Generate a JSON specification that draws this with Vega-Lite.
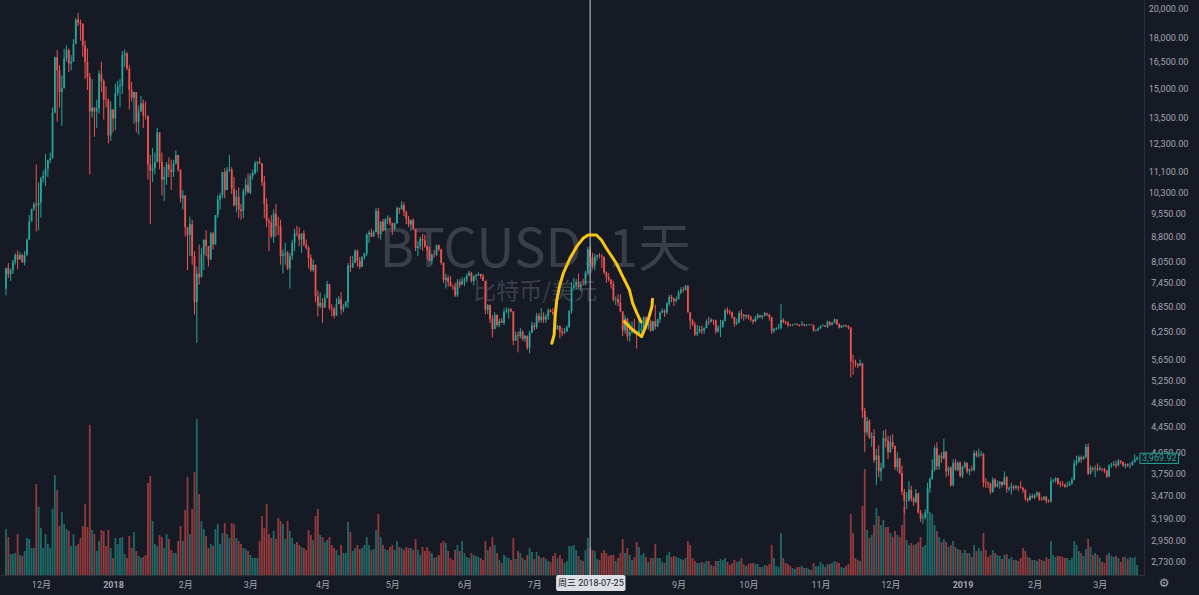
{
"$schema": "https://vega.github.io/schema/vega-lite/v6.json",
"width": 1144,
"height": 575,
"autosize": {"type": "none"},
"padding": {"left": 0, "top": 0, "right": 55, "bottom": 20},
"background": "#161a25",
"config": {
  "view": {"stroke": null},
  "axis": {"grid": false, "ticks": false, "tickSize": 0, "domainColor": "#2a2e39", "labelColor": "#a3a6af", "labelFont": "Roboto, Noto Sans CJK SC", "labelFontSize": 9}
},
"datasets": {
"bars": [
{"d":"2017-11-16","o":7300,"h":7870,"l":7120,"c":7850,"v":46},
{"d":"2017-11-17","o":7850,"h":8000,"l":7580,"c":7690,"v":38},
{"d":"2017-11-18","o":7690,"h":7850,"l":7500,"c":7790,"v":21},
{"d":"2017-11-19","o":7790,"h":8100,"l":7690,"c":8040,"v":21},
{"d":"2017-11-20","o":8040,"h":8280,"l":7950,"c":8240,"v":22},
{"d":"2017-11-21","o":8240,"h":8370,"l":7820,"c":8100,"v":41},
{"d":"2017-11-22","o":8100,"h":8320,"l":8100,"c":8230,"v":20},
{"d":"2017-11-23","o":8230,"h":8270,"l":8000,"c":8030,"v":19},
{"d":"2017-11-24","o":8030,"h":8350,"l":7930,"c":8230,"v":24},
{"d":"2017-11-25","o":8230,"h":8740,"l":8200,"c":8700,"v":37},
{"d":"2017-11-26","o":8700,"h":9500,"l":8700,"c":9290,"v":36},
{"d":"2017-11-27","o":9290,"h":9730,"l":9290,"c":9720,"v":27},
{"d":"2017-11-28","o":9720,"h":9960,"l":9650,"c":9880,"v":27},
{"d":"2017-11-29","o":9880,"h":11400,"l":8960,"c":9840,"v":91},
{"d":"2017-11-30","o":9840,"h":10690,"l":9000,"c":9950,"v":68},
{"d":"2017-12-01","o":9950,"h":10900,"l":9420,"c":10850,"v":47},
{"d":"2017-12-02","o":10850,"h":11150,"l":10690,"c":10950,"v":27},
{"d":"2017-12-03","o":10950,"h":11850,"l":10550,"c":11230,"v":41},
{"d":"2017-12-04","o":11230,"h":11600,"l":10900,"c":11590,"v":31},
{"d":"2017-12-05","o":11590,"h":11900,"l":11450,"c":11660,"v":27},
{"d":"2017-12-06","o":11660,"h":14000,"l":11650,"c":13750,"v":66},
{"d":"2017-12-07","o":13750,"h":16800,"l":13700,"c":16770,"v":100},
{"d":"2017-12-08","o":16770,"h":17200,"l":13300,"c":16000,"v":85},
{"d":"2017-12-09","o":16000,"h":16300,"l":14000,"c":14800,"v":49},
{"d":"2017-12-10","o":14800,"h":15700,"l":13100,"c":15000,"v":63},
{"d":"2017-12-11","o":15000,"h":17300,"l":15000,"c":16700,"v":51},
{"d":"2017-12-12","o":16700,"h":17500,"l":16500,"c":17200,"v":46},
{"d":"2017-12-13","o":17200,"h":17300,"l":15900,"c":16400,"v":44},
{"d":"2017-12-14","o":16400,"h":16900,"l":16000,"c":16500,"v":29},
{"d":"2017-12-15","o":16500,"h":17900,"l":16500,"c":17600,"v":41},
{"d":"2017-12-16","o":17600,"h":19300,"l":17600,"c":19200,"v":29},
{"d":"2017-12-17","o":19200,"h":19670,"l":18750,"c":19000,"v":31},
{"d":"2017-12-18","o":19000,"h":19200,"l":17800,"c":18900,"v":37},
{"d":"2017-12-19","o":18900,"h":18950,"l":16800,"c":17500,"v":49},
{"d":"2017-12-20","o":17500,"h":17800,"l":15500,"c":16500,"v":71},
{"d":"2017-12-21","o":16500,"h":17300,"l":14900,"c":15600,"v":48},
{"d":"2017-12-22","o":15600,"h":15850,"l":11000,"c":13800,"v":150},
{"d":"2017-12-23","o":13800,"h":15500,"l":13500,"c":14000,"v":45},
{"d":"2017-12-24","o":14000,"h":14000,"l":12600,"c":13800,"v":41},
{"d":"2017-12-25","o":13800,"h":14400,"l":13000,"c":13950,"v":24},
{"d":"2017-12-26","o":13950,"h":16000,"l":13700,"c":15800,"v":34},
{"d":"2017-12-27","o":15800,"h":16500,"l":14800,"c":15400,"v":45},
{"d":"2017-12-28","o":15400,"h":15500,"l":13400,"c":14400,"v":44},
{"d":"2017-12-29","o":14400,"h":15100,"l":14000,"c":14380,"v":29},
{"d":"2017-12-30","o":14380,"h":14450,"l":12300,"c":12650,"v":45},
{"d":"2017-12-31","o":12650,"h":14300,"l":12400,"c":13900,"v":27},
{"d":"2018-01-01","o":13900,"h":13900,"l":12800,"c":13450,"v":17},
{"d":"2018-01-02","o":13450,"h":15250,"l":12900,"c":14750,"v":37},
{"d":"2018-01-03","o":14750,"h":15400,"l":14600,"c":15100,"v":31},
{"d":"2018-01-04","o":15100,"h":15500,"l":14000,"c":15150,"v":37},
{"d":"2018-01-05","o":15150,"h":17150,"l":14700,"c":16900,"v":38},
{"d":"2018-01-06","o":16900,"h":17250,"l":16200,"c":17000,"v":21},
{"d":"2018-01-07","o":17000,"h":17100,"l":16000,"c":16100,"v":17},
{"d":"2018-01-08","o":16100,"h":16300,"l":13900,"c":14900,"v":39},
{"d":"2018-01-09","o":14900,"h":15350,"l":14300,"c":14500,"v":27},
{"d":"2018-01-10","o":14500,"h":14800,"l":13200,"c":14800,"v":43},
{"d":"2018-01-11","o":14800,"h":14800,"l":12800,"c":13300,"v":24},
{"d":"2018-01-12","o":13300,"h":14100,"l":12700,"c":13800,"v":19},
{"d":"2018-01-13","o":13800,"h":14600,"l":13800,"c":14200,"v":17},
{"d":"2018-01-14","o":14200,"h":14400,"l":13000,"c":13600,"v":18},
{"d":"2018-01-15","o":13600,"h":14300,"l":13400,"c":13580,"v":20},
{"d":"2018-01-16","o":13580,"h":13600,"l":10800,"c":11400,"v":92},
{"d":"2018-01-17","o":11400,"h":11800,"l":9200,"c":11150,"v":99},
{"d":"2018-01-18","o":11150,"h":12100,"l":10700,"c":11250,"v":54},
{"d":"2018-01-19","o":11250,"h":11900,"l":11000,"c":11500,"v":31},
{"d":"2018-01-20","o":11500,"h":13000,"l":11500,"c":12800,"v":29},
{"d":"2018-01-21","o":12800,"h":12800,"l":11200,"c":11500,"v":40},
{"d":"2018-01-22","o":11500,"h":11900,"l":10200,"c":10800,"v":38},
{"d":"2018-01-23","o":10800,"h":11300,"l":10000,"c":10900,"v":27},
{"d":"2018-01-24","o":10900,"h":11500,"l":10600,"c":11400,"v":41},
{"d":"2018-01-25","o":11400,"h":11700,"l":10900,"c":11200,"v":36},
{"d":"2018-01-26","o":11200,"h":11600,"l":10400,"c":11100,"v":25},
{"d":"2018-01-27","o":11100,"h":11600,"l":10900,"c":11450,"v":22},
{"d":"2018-01-28","o":11450,"h":12000,"l":11400,"c":11800,"v":22},
{"d":"2018-01-29","o":11800,"h":11800,"l":11100,"c":11200,"v":34},
{"d":"2018-01-30","o":11200,"h":11200,"l":9950,"c":10100,"v":49},
{"d":"2018-01-31","o":10100,"h":10400,"l":9700,"c":10200,"v":34},
{"d":"2018-02-01","o":10200,"h":10200,"l":8800,"c":9100,"v":65},
{"d":"2018-02-02","o":9100,"h":9100,"l":7800,"c":8850,"v":98},
{"d":"2018-02-03","o":8850,"h":9450,"l":8200,"c":9200,"v":41},
{"d":"2018-02-04","o":9200,"h":9350,"l":7950,"c":8200,"v":66},
{"d":"2018-02-05","o":8200,"h":8350,"l":6650,"c":6950,"v":103},
{"d":"2018-02-06","o":6950,"h":7900,"l":6000,"c":7700,"v":156},
{"d":"2018-02-07","o":7700,"h":8550,"l":7400,"c":7600,"v":81},
{"d":"2018-02-08","o":7600,"h":8450,"l":7600,"c":8250,"v":54},
{"d":"2018-02-09","o":8250,"h":8700,"l":7800,"c":8700,"v":46},
{"d":"2018-02-10","o":8700,"h":9000,"l":8200,"c":8500,"v":39},
{"d":"2018-02-11","o":8500,"h":8500,"l":7900,"c":8100,"v":27},
{"d":"2018-02-12","o":8100,"h":8950,"l":8100,"c":8900,"v":31},
{"d":"2018-02-13","o":8900,"h":8950,"l":8400,"c":8550,"v":29},
{"d":"2018-02-14","o":8550,"h":9500,"l":8550,"c":9500,"v":46},
{"d":"2018-02-15","o":9500,"h":10200,"l":9400,"c":10050,"v":51},
{"d":"2018-02-16","o":10050,"h":10300,"l":9700,"c":10200,"v":31},
{"d":"2018-02-17","o":10200,"h":11100,"l":10100,"c":11100,"v":42},
{"d":"2018-02-18","o":11100,"h":11250,"l":10100,"c":10400,"v":52},
{"d":"2018-02-19","o":10400,"h":11300,"l":10400,"c":11150,"v":41},
{"d":"2018-02-20","o":11150,"h":11800,"l":11100,"c":11200,"v":37},
{"d":"2018-02-21","o":11200,"h":11300,"l":10250,"c":10450,"v":52},
{"d":"2018-02-22","o":10450,"h":10900,"l":9800,"c":9850,"v":51},
{"d":"2018-02-23","o":9850,"h":10400,"l":9600,"c":10150,"v":37},
{"d":"2018-02-24","o":10150,"h":10500,"l":9400,"c":9700,"v":34},
{"d":"2018-02-25","o":9700,"h":9900,"l":9350,"c":9650,"v":31},
{"d":"2018-02-26","o":9650,"h":10450,"l":9400,"c":10350,"v":27},
{"d":"2018-02-27","o":10350,"h":10850,"l":10200,"c":10600,"v":26},
{"d":"2018-02-28","o":10600,"h":11050,"l":10300,"c":10300,"v":24},
{"d":"2018-03-01","o":10300,"h":11050,"l":10250,"c":10950,"v":20},
{"d":"2018-03-02","o":10950,"h":11200,"l":10800,"c":11050,"v":17},
{"d":"2018-03-03","o":11050,"h":11550,"l":11000,"c":11450,"v":17},
{"d":"2018-03-04","o":11450,"h":11550,"l":11100,"c":11500,"v":17},
{"d":"2018-03-05","o":11500,"h":11700,"l":11400,"c":11450,"v":34},
{"d":"2018-03-06","o":11450,"h":11450,"l":10550,"c":10700,"v":59},
{"d":"2018-03-07","o":10700,"h":10950,"l":9400,"c":9900,"v":47},
{"d":"2018-03-08","o":9900,"h":10100,"l":9100,"c":9300,"v":71},
{"d":"2018-03-09","o":9300,"h":9400,"l":8350,"c":9250,"v":41},
{"d":"2018-03-10","o":9250,"h":9500,"l":8750,"c":8800,"v":37},
{"d":"2018-03-11","o":8800,"h":9700,"l":8600,"c":9550,"v":44},
{"d":"2018-03-12","o":9550,"h":9900,"l":8800,"c":9150,"v":36},
{"d":"2018-03-13","o":9150,"h":9450,"l":8850,"c":9130,"v":57},
{"d":"2018-03-14","o":9130,"h":9350,"l":7950,"c":8200,"v":54},
{"d":"2018-03-15","o":8200,"h":8400,"l":7700,"c":8250,"v":51},
{"d":"2018-03-16","o":8250,"h":8600,"l":7950,"c":8300,"v":36},
{"d":"2018-03-17","o":8300,"h":8350,"l":7800,"c":7850,"v":54},
{"d":"2018-03-18","o":7850,"h":8300,"l":7300,"c":8200,"v":44},
{"d":"2018-03-19","o":8200,"h":8700,"l":8100,"c":8600,"v":37},
{"d":"2018-03-20","o":8600,"h":9050,"l":8350,"c":8900,"v":31},
{"d":"2018-03-21","o":8900,"h":9150,"l":8800,"c":8880,"v":33},
{"d":"2018-03-22","o":8880,"h":9100,"l":8500,"c":8700,"v":30},
{"d":"2018-03-23","o":8700,"h":8900,"l":8300,"c":8900,"v":28},
{"d":"2018-03-24","o":8900,"h":9000,"l":8500,"c":8550,"v":27},
{"d":"2018-03-25","o":8550,"h":8700,"l":8400,"c":8450,"v":25},
{"d":"2018-03-26","o":8450,"h":8500,"l":7850,"c":8150,"v":45},
{"d":"2018-03-27","o":8150,"h":8250,"l":7750,"c":7800,"v":40},
{"d":"2018-03-28","o":7800,"h":8100,"l":7750,"c":7950,"v":35},
{"d":"2018-03-29","o":7950,"h":7950,"l":6950,"c":7100,"v":59},
{"d":"2018-03-30","o":7100,"h":7250,"l":6600,"c":6850,"v":66},
{"d":"2018-03-31","o":6850,"h":7200,"l":6800,"c":6930,"v":40},
{"d":"2018-04-01","o":6930,"h":7050,"l":6450,"c":6820,"v":38},
{"d":"2018-04-02","o":6820,"h":7150,"l":6800,"c":7050,"v":33},
{"d":"2018-04-03","o":7050,"h":7500,"l":7050,"c":7420,"v":35},
{"d":"2018-04-04","o":7420,"h":7420,"l":6750,"c":6800,"v":38},
{"d":"2018-04-05","o":6800,"h":6900,"l":6600,"c":6780,"v":30},
{"d":"2018-04-06","o":6780,"h":6830,"l":6550,"c":6620,"v":27},
{"d":"2018-04-07","o":6620,"h":7050,"l":6620,"c":6900,"v":25},
{"d":"2018-04-08","o":6900,"h":7100,"l":6900,"c":7020,"v":20},
{"d":"2018-04-09","o":7020,"h":7200,"l":6650,"c":6770,"v":30},
{"d":"2018-04-10","o":6770,"h":6900,"l":6700,"c":6840,"v":22},
{"d":"2018-04-11","o":6840,"h":6980,"l":6820,"c":6950,"v":22},
{"d":"2018-04-12","o":6950,"h":8000,"l":6800,"c":7920,"v":53},
{"d":"2018-04-13","o":7920,"h":8200,"l":7750,"c":7890,"v":43},
{"d":"2018-04-14","o":7890,"h":8200,"l":7850,"c":8000,"v":24},
{"d":"2018-04-15","o":8000,"h":8400,"l":8000,"c":8360,"v":27},
{"d":"2018-04-16","o":8360,"h":8400,"l":7900,"c":8060,"v":30},
{"d":"2018-04-17","o":8060,"h":8180,"l":7830,"c":7890,"v":26},
{"d":"2018-04-18","o":7890,"h":8200,"l":7890,"c":8170,"v":27},
{"d":"2018-04-19","o":8170,"h":8300,"l":8100,"c":8280,"v":30},
{"d":"2018-04-20","o":8280,"h":8900,"l":8200,"c":8860,"v":38},
{"d":"2018-04-21","o":8860,"h":9000,"l":8600,"c":8930,"v":30},
{"d":"2018-04-22","o":8930,"h":9050,"l":8780,"c":8800,"v":25},
{"d":"2018-04-23","o":8800,"h":9000,"l":8800,"c":8940,"v":26},
{"d":"2018-04-24","o":8940,"h":9750,"l":8930,"c":9650,"v":45},
{"d":"2018-04-25","o":9650,"h":9750,"l":8750,"c":8870,"v":61},
{"d":"2018-04-26","o":8870,"h":9300,"l":8700,"c":9280,"v":38},
{"d":"2018-04-27","o":9280,"h":9380,"l":8950,"c":8990,"v":30},
{"d":"2018-04-28","o":8990,"h":9400,"l":8990,"c":9350,"v":26},
{"d":"2018-04-29","o":9350,"h":9500,"l":9200,"c":9400,"v":25},
{"d":"2018-04-30","o":9400,"h":9450,"l":9150,"c":9240,"v":28},
{"d":"2018-05-01","o":9240,"h":9250,"l":8850,"c":9070,"v":30},
{"d":"2018-05-02","o":9070,"h":9250,"l":9000,"c":9230,"v":25},
{"d":"2018-05-03","o":9230,"h":9800,"l":9200,"c":9740,"v":34},
{"d":"2018-05-04","o":9740,"h":9770,"l":9550,"c":9700,"v":28},
{"d":"2018-05-05","o":9700,"h":9990,"l":9700,"c":9860,"v":27},
{"d":"2018-05-06","o":9860,"h":9950,"l":9470,"c":9620,"v":25},
{"d":"2018-05-07","o":9620,"h":9650,"l":9200,"c":9370,"v":28},
{"d":"2018-05-08","o":9370,"h":9480,"l":9100,"c":9190,"v":27},
{"d":"2018-05-09","o":9190,"h":9360,"l":8980,"c":9330,"v":27},
{"d":"2018-05-10","o":9330,"h":9390,"l":9000,"c":9040,"v":25},
{"d":"2018-05-11","o":9040,"h":9040,"l":8350,"c":8440,"v":36},
{"d":"2018-05-12","o":8440,"h":8650,"l":8200,"c":8500,"v":25},
{"d":"2018-05-13","o":8500,"h":8800,"l":8400,"c":8720,"v":20},
{"d":"2018-05-14","o":8720,"h":8880,"l":8350,"c":8680,"v":28},
{"d":"2018-05-15","o":8680,"h":8850,"l":8450,"c":8500,"v":24},
{"d":"2018-05-16","o":8500,"h":8500,"l":8100,"c":8370,"v":28},
{"d":"2018-05-17","o":8370,"h":8480,"l":8050,"c":8060,"v":24},
{"d":"2018-05-18","o":8060,"h":8270,"l":7950,"c":8250,"v":22},
{"d":"2018-05-19","o":8250,"h":8380,"l":8150,"c":8240,"v":17},
{"d":"2018-05-20","o":8240,"h":8550,"l":8200,"c":8530,"v":18},
{"d":"2018-05-21","o":8530,"h":8550,"l":8350,"c":8400,"v":20},
{"d":"2018-05-22","o":8400,"h":8420,"l":7950,"c":8000,"v":32},
{"d":"2018-05-23","o":8000,"h":8020,"l":7450,"c":7530,"v":34},
{"d":"2018-05-24","o":7530,"h":7700,"l":7300,"c":7590,"v":32},
{"d":"2018-05-25","o":7590,"h":7650,"l":7350,"c":7470,"v":24},
{"d":"2018-05-26","o":7470,"h":7630,"l":7350,"c":7360,"v":17},
{"d":"2018-05-27","o":7360,"h":7400,"l":7260,"c":7350,"v":15},
{"d":"2018-05-28","o":7350,"h":7450,"l":7080,"c":7120,"v":25},
{"d":"2018-05-29","o":7120,"h":7550,"l":7080,"c":7470,"v":30},
{"d":"2018-05-30","o":7470,"h":7550,"l":7320,"c":7400,"v":24},
{"d":"2018-05-31","o":7400,"h":7600,"l":7400,"c":7500,"v":34},
{"d":"2018-06-01","o":7500,"h":7600,"l":7360,"c":7540,"v":22},
{"d":"2018-06-02","o":7540,"h":7700,"l":7460,"c":7640,"v":18},
{"d":"2018-06-03","o":7640,"h":7780,"l":7640,"c":7720,"v":17},
{"d":"2018-06-04","o":7720,"h":7750,"l":7460,"c":7500,"v":22},
{"d":"2018-06-05","o":7500,"h":7650,"l":7380,"c":7630,"v":20},
{"d":"2018-06-06","o":7630,"h":7690,"l":7520,"c":7660,"v":19},
{"d":"2018-06-07","o":7660,"h":7740,"l":7640,"c":7690,"v":18},
{"d":"2018-06-08","o":7690,"h":7700,"l":7560,"c":7620,"v":17},
{"d":"2018-06-09","o":7620,"h":7690,"l":7500,"c":7500,"v":15},
{"d":"2018-06-10","o":7500,"h":7500,"l":6650,"c":6760,"v":34},
{"d":"2018-06-11","o":6760,"h":6900,"l":6660,"c":6870,"v":25},
{"d":"2018-06-12","o":6870,"h":6890,"l":6450,"c":6540,"v":28},
{"d":"2018-06-13","o":6540,"h":6630,"l":6120,"c":6310,"v":38},
{"d":"2018-06-14","o":6310,"h":6700,"l":6300,"c":6640,"v":30},
{"d":"2018-06-15","o":6640,"h":6640,"l":6360,"c":6400,"v":22},
{"d":"2018-06-16","o":6400,"h":6550,"l":6350,"c":6490,"v":15},
{"d":"2018-06-17","o":6490,"h":6560,"l":6450,"c":6450,"v":12},
{"d":"2018-06-18","o":6450,"h":6790,"l":6400,"c":6710,"v":20},
{"d":"2018-06-19","o":6710,"h":6820,"l":6670,"c":6740,"v":18},
{"d":"2018-06-20","o":6740,"h":6800,"l":6550,"c":6770,"v":17},
{"d":"2018-06-21","o":6770,"h":6800,"l":6700,"c":6720,"v":15},
{"d":"2018-06-22","o":6720,"h":6730,"l":5950,"c":6050,"v":37},
{"d":"2018-06-23","o":6050,"h":6250,"l":6050,"c":6170,"v":16},
{"d":"2018-06-24","o":6170,"h":6250,"l":5800,"c":6150,"v":24},
{"d":"2018-06-25","o":6150,"h":6330,"l":6100,"c":6250,"v":22},
{"d":"2018-06-26","o":6250,"h":6280,"l":6050,"c":6090,"v":17},
{"d":"2018-06-27","o":6090,"h":6180,"l":6020,"c":6150,"v":15},
{"d":"2018-06-28","o":6150,"h":6170,"l":5850,"c":5900,"v":20},
{"d":"2018-06-29","o":5900,"h":6270,"l":5780,"c":6220,"v":27},
{"d":"2018-06-30","o":6220,"h":6480,"l":6220,"c":6390,"v":23},
{"d":"2018-07-01","o":6390,"h":6450,"l":6280,"c":6360,"v":16},
{"d":"2018-07-02","o":6360,"h":6680,"l":6310,"c":6620,"v":23},
{"d":"2018-07-03","o":6620,"h":6680,"l":6450,"c":6510,"v":19},
{"d":"2018-07-04","o":6510,"h":6800,"l":6460,"c":6600,"v":17},
{"d":"2018-07-05","o":6600,"h":6700,"l":6450,"c":6530,"v":18},
{"d":"2018-07-06","o":6530,"h":6660,"l":6450,"c":6600,"v":16},
{"d":"2018-07-07","o":6600,"h":6800,"l":6520,"c":6750,"v":14},
{"d":"2018-07-08","o":6750,"h":6780,"l":6700,"c":6710,"v":13},
{"d":"2018-07-09","o":6710,"h":6800,"l":6630,"c":6670,"v":19},
{"d":"2018-07-10","o":6670,"h":6700,"l":6300,"c":6300,"v":22},
{"d":"2018-07-11","o":6300,"h":6400,"l":6300,"c":6380,"v":17},
{"d":"2018-07-12","o":6380,"h":6390,"l":6100,"c":6250,"v":20},
{"d":"2018-07-13","o":6250,"h":6330,"l":6150,"c":6220,"v":16},
{"d":"2018-07-14","o":6220,"h":6330,"l":6200,"c":6250,"v":12},
{"d":"2018-07-15","o":6250,"h":6400,"l":6250,"c":6350,"v":14},
{"d":"2018-07-16","o":6350,"h":6750,"l":6340,"c":6730,"v":29},
{"d":"2018-07-17","o":6730,"h":7470,"l":6670,"c":7320,"v":29},
{"d":"2018-07-18","o":7320,"h":7580,"l":7250,"c":7380,"v":30},
{"d":"2018-07-19","o":7380,"h":7550,"l":7280,"c":7470,"v":25},
{"d":"2018-07-20","o":7470,"h":7700,"l":7300,"c":7330,"v":19},
{"d":"2018-07-21","o":7330,"h":7450,"l":7230,"c":7410,"v":15},
{"d":"2018-07-22","o":7410,"h":7560,"l":7380,"c":7400,"v":14},
{"d":"2018-07-23","o":7400,"h":7780,"l":7380,"c":7720,"v":25},
{"d":"2018-07-24","o":7720,"h":8480,"l":7700,"c":8400,"v":37},
{"d":"2018-07-25","o":8400,"h":8480,"l":8050,"c":8170,"v":27},
{"d":"2018-07-26","o":8170,"h":8300,"l":7860,"c":7930,"v":25},
{"d":"2018-07-27","o":7930,"h":8270,"l":7800,"c":8180,"v":24},
{"d":"2018-07-28","o":8180,"h":8230,"l":8070,"c":8230,"v":16},
{"d":"2018-07-29","o":8230,"h":8290,"l":8130,"c":8210,"v":15},
{"d":"2018-07-30","o":8210,"h":8250,"l":7860,"c":8180,"v":22},
{"d":"2018-07-31","o":8180,"h":8180,"l":7680,"c":7730,"v":25},
{"d":"2018-08-01","o":7730,"h":7760,"l":7450,"c":7600,"v":22},
{"d":"2018-08-02","o":7600,"h":7720,"l":7480,"c":7540,"v":19},
{"d":"2018-08-03","o":7540,"h":7550,"l":7300,"c":7420,"v":20},
{"d":"2018-08-04","o":7420,"h":7500,"l":6960,"c":7010,"v":20},
{"d":"2018-08-05","o":7010,"h":7090,"l":6880,"c":7030,"v":14},
{"d":"2018-08-06","o":7030,"h":7150,"l":6850,"c":6940,"v":17},
{"d":"2018-08-07","o":6940,"h":7150,"l":6700,"c":6720,"v":22},
{"d":"2018-08-08","o":6720,"h":6720,"l":6150,"c":6280,"v":36},
{"d":"2018-08-09","o":6280,"h":6630,"l":6200,"c":6550,"v":22},
{"d":"2018-08-10","o":6550,"h":6570,"l":6050,"c":6150,"v":27},
{"d":"2018-08-11","o":6150,"h":6470,"l":6030,"c":6240,"v":20},
{"d":"2018-08-12","o":6240,"h":6480,"l":6200,"c":6320,"v":15},
{"d":"2018-08-13","o":6320,"h":6540,"l":6200,"c":6260,"v":18},
{"d":"2018-08-14","o":6260,"h":6270,"l":5880,"c":6190,"v":33},
{"d":"2018-08-15","o":6190,"h":6620,"l":6180,"c":6270,"v":28},
{"d":"2018-08-16","o":6270,"h":6480,"l":6200,"c":6310,"v":20},
{"d":"2018-08-17","o":6310,"h":6600,"l":6300,"c":6580,"v":22},
{"d":"2018-08-18","o":6580,"h":6600,"l":6300,"c":6390,"v":18},
{"d":"2018-08-19","o":6390,"h":6550,"l":6300,"c":6490,"v":13},
{"d":"2018-08-20","o":6490,"h":6530,"l":6250,"c":6270,"v":17},
{"d":"2018-08-21","o":6270,"h":6500,"l":6270,"c":6480,"v":17},
{"d":"2018-08-22","o":6480,"h":6880,"l":6300,"c":6370,"v":31},
{"d":"2018-08-23","o":6370,"h":6550,"l":6350,"c":6530,"v":17},
{"d":"2018-08-24","o":6530,"h":6720,"l":6450,"c":6690,"v":17},
{"d":"2018-08-25","o":6690,"h":6800,"l":6680,"c":6740,"v":13},
{"d":"2018-08-26","o":6740,"h":6770,"l":6590,"c":6700,"v":12},
{"d":"2018-08-27","o":6700,"h":6950,"l":6650,"c":6910,"v":20},
{"d":"2018-08-28","o":6910,"h":7130,"l":6860,"c":7080,"v":23},
{"d":"2018-08-29","o":7080,"h":7140,"l":6950,"c":7040,"v":18},
{"d":"2018-08-30","o":7040,"h":7060,"l":6850,"c":6980,"v":19},
{"d":"2018-08-31","o":6980,"h":7090,"l":6940,"c":7020,"v":18},
{"d":"2018-09-01","o":7020,"h":7250,"l":7020,"c":7190,"v":17},
{"d":"2018-09-02","o":7190,"h":7330,"l":7150,"c":7270,"v":16},
{"d":"2018-09-03","o":7270,"h":7340,"l":7200,"c":7260,"v":15},
{"d":"2018-09-04","o":7260,"h":7400,"l":7240,"c":7360,"v":17},
{"d":"2018-09-05","o":7360,"h":7390,"l":6700,"c":6700,"v":34},
{"d":"2018-09-06","o":6700,"h":6710,"l":6300,"c":6500,"v":30},
{"d":"2018-09-07","o":6500,"h":6540,"l":6380,"c":6410,"v":17},
{"d":"2018-09-08","o":6410,"h":6470,"l":6150,"c":6190,"v":14},
{"d":"2018-09-09","o":6190,"h":6400,"l":6150,"c":6240,"v":12},
{"d":"2018-09-10","o":6240,"h":6380,"l":6220,"c":6310,"v":12},
{"d":"2018-09-11","o":6310,"h":6390,"l":6190,"c":6280,"v":13},
{"d":"2018-09-12","o":6280,"h":6350,"l":6200,"c":6330,"v":12},
{"d":"2018-09-13","o":6330,"h":6530,"l":6330,"c":6480,"v":14},
{"d":"2018-09-14","o":6480,"h":6590,"l":6400,"c":6470,"v":14},
{"d":"2018-09-15","o":6470,"h":6560,"l":6460,"c":6520,"v":10},
{"d":"2018-09-16","o":6520,"h":6530,"l":6400,"c":6500,"v":9},
{"d":"2018-09-17","o":6500,"h":6520,"l":6200,"c":6250,"v":14},
{"d":"2018-09-18","o":6250,"h":6400,"l":6230,"c":6340,"v":14},
{"d":"2018-09-19","o":6340,"h":6520,"l":6130,"c":6360,"v":16},
{"d":"2018-09-20","o":6360,"h":6520,"l":6340,"c":6490,"v":15},
{"d":"2018-09-21","o":6490,"h":6790,"l":6490,"c":6750,"v":17},
{"d":"2018-09-22","o":6750,"h":6820,"l":6650,"c":6710,"v":13},
{"d":"2018-09-23","o":6710,"h":6760,"l":6640,"c":6700,"v":10},
{"d":"2018-09-24","o":6700,"h":6720,"l":6550,"c":6590,"v":12},
{"d":"2018-09-25","o":6590,"h":6590,"l":6360,"c":6430,"v":15},
{"d":"2018-09-26","o":6430,"h":6550,"l":6400,"c":6460,"v":13},
{"d":"2018-09-27","o":6460,"h":6730,"l":6440,"c":6680,"v":14},
{"d":"2018-09-28","o":6680,"h":6770,"l":6540,"c":6640,"v":17},
{"d":"2018-09-29","o":6640,"h":6650,"l":6500,"c":6600,"v":11},
{"d":"2018-09-30","o":6600,"h":6650,"l":6540,"c":6630,"v":9},
{"d":"2018-10-01","o":6630,"h":6650,"l":6530,"c":6590,"v":11},
{"d":"2018-10-02","o":6590,"h":6620,"l":6480,"c":6520,"v":12},
{"d":"2018-10-03","o":6520,"h":6530,"l":6420,"c":6480,"v":12},
{"d":"2018-10-04","o":6480,"h":6620,"l":6470,"c":6570,"v":11},
{"d":"2018-10-05","o":6570,"h":6680,"l":6530,"c":6630,"v":11},
{"d":"2018-10-06","o":6630,"h":6640,"l":6560,"c":6590,"v":8},
{"d":"2018-10-07","o":6590,"h":6630,"l":6530,"c":6620,"v":8},
{"d":"2018-10-08","o":6620,"h":6710,"l":6600,"c":6680,"v":10},
{"d":"2018-10-09","o":6680,"h":6690,"l":6610,"c":6650,"v":9},
{"d":"2018-10-10","o":6650,"h":6650,"l":6500,"c":6590,"v":11},
{"d":"2018-10-11","o":6590,"h":6590,"l":6200,"c":6260,"v":30},
{"d":"2018-10-12","o":6260,"h":6330,"l":6220,"c":6310,"v":17},
{"d":"2018-10-13","o":6310,"h":6350,"l":6280,"c":6330,"v":9},
{"d":"2018-10-14","o":6330,"h":6430,"l":6300,"c":6340,"v":8},
{"d":"2018-10-15","o":6340,"h":6900,"l":6300,"c":6520,"v":42},
{"d":"2018-10-16","o":6520,"h":6560,"l":6440,"c":6470,"v":17},
{"d":"2018-10-17","o":6470,"h":6500,"l":6410,"c":6450,"v":12},
{"d":"2018-10-18","o":6450,"h":6490,"l":6350,"c":6400,"v":11},
{"d":"2018-10-19","o":6400,"h":6430,"l":6370,"c":6390,"v":9},
{"d":"2018-10-20","o":6390,"h":6420,"l":6370,"c":6410,"v":7},
{"d":"2018-10-21","o":6410,"h":6450,"l":6400,"c":6420,"v":6},
{"d":"2018-10-22","o":6420,"h":6440,"l":6380,"c":6400,"v":8},
{"d":"2018-10-23","o":6400,"h":6420,"l":6360,"c":6395,"v":8},
{"d":"2018-10-24","o":6395,"h":6490,"l":6390,"c":6420,"v":9},
{"d":"2018-10-25","o":6420,"h":6430,"l":6370,"c":6390,"v":7},
{"d":"2018-10-26","o":6390,"h":6420,"l":6370,"c":6400,"v":7},
{"d":"2018-10-27","o":6400,"h":6420,"l":6390,"c":6410,"v":6},
{"d":"2018-10-28","o":6410,"h":6420,"l":6390,"c":6400,"v":5},
{"d":"2018-10-29","o":6400,"h":6410,"l":6250,"c":6270,"v":12},
{"d":"2018-10-30","o":6270,"h":6300,"l":6250,"c":6280,"v":9},
{"d":"2018-10-31","o":6280,"h":6350,"l":6260,"c":6320,"v":9},
{"d":"2018-11-01","o":6320,"h":6390,"l":6320,"c":6380,"v":13},
{"d":"2018-11-02","o":6380,"h":6420,"l":6370,"c":6390,"v":11},
{"d":"2018-11-03","o":6390,"h":6400,"l":6350,"c":6360,"v":8},
{"d":"2018-11-04","o":6360,"h":6500,"l":6330,"c":6480,"v":11},
{"d":"2018-11-05","o":6480,"h":6480,"l":6370,"c":6410,"v":11},
{"d":"2018-11-06","o":6410,"h":6460,"l":6390,"c":6450,"v":12},
{"d":"2018-11-07","o":6450,"h":6550,"l":6440,"c":6530,"v":14},
{"d":"2018-11-08","o":6530,"h":6540,"l":6400,"c":6420,"v":13},
{"d":"2018-11-09","o":6420,"h":6440,"l":6320,"c":6340,"v":12},
{"d":"2018-11-10","o":6340,"h":6400,"l":6330,"c":6390,"v":8},
{"d":"2018-11-11","o":6390,"h":6410,"l":6350,"c":6400,"v":7},
{"d":"2018-11-12","o":6400,"h":6410,"l":6350,"c":6380,"v":9},
{"d":"2018-11-13","o":6380,"h":6390,"l":6300,"c":6340,"v":11},
{"d":"2018-11-14","o":6340,"h":6350,"l":5300,"c":5620,"v":61},
{"d":"2018-11-15","o":5620,"h":5750,"l":5350,"c":5600,"v":42},
{"d":"2018-11-16","o":5600,"h":5650,"l":5500,"c":5560,"v":17},
{"d":"2018-11-17","o":5560,"h":5580,"l":5480,"c":5530,"v":15},
{"d":"2018-11-18","o":5530,"h":5650,"l":5520,"c":5580,"v":14},
{"d":"2018-11-19","o":5580,"h":5580,"l":4580,"c":4700,"v":69},
{"d":"2018-11-20","o":4700,"h":4750,"l":4050,"c":4350,"v":106},
{"d":"2018-11-21","o":4350,"h":4600,"l":4300,"c":4530,"v":45},
{"d":"2018-11-22","o":4530,"h":4560,"l":4250,"c":4270,"v":37},
{"d":"2018-11-23","o":4270,"h":4350,"l":4130,"c":4290,"v":40},
{"d":"2018-11-24","o":4290,"h":4400,"l":3900,"c":3940,"v":50},
{"d":"2018-11-25","o":3940,"h":4100,"l":3600,"c":4000,"v":67},
{"d":"2018-11-26","o":4000,"h":4150,"l":3700,"c":3780,"v":59},
{"d":"2018-11-27","o":3780,"h":3900,"l":3650,"c":3830,"v":50},
{"d":"2018-11-28","o":3830,"h":4380,"l":3820,"c":4260,"v":55},
{"d":"2018-11-29","o":4260,"h":4400,"l":4120,"c":4220,"v":48},
{"d":"2018-11-30","o":4220,"h":4300,"l":3950,"c":4050,"v":48},
{"d":"2018-12-01","o":4050,"h":4300,"l":4040,"c":4200,"v":42},
{"d":"2018-12-02","o":4200,"h":4320,"l":4100,"c":4140,"v":38},
{"d":"2018-12-03","o":4140,"h":4150,"l":3800,"c":3840,"v":44},
{"d":"2018-12-04","o":3840,"h":4050,"l":3780,"c":3960,"v":40},
{"d":"2018-12-05","o":3960,"h":3970,"l":3740,"c":3760,"v":38},
{"d":"2018-12-06","o":3760,"h":3860,"l":3470,"c":3510,"v":50},
{"d":"2018-12-07","o":3510,"h":3550,"l":3250,"c":3400,"v":68},
{"d":"2018-12-08","o":3400,"h":3510,"l":3300,"c":3410,"v":35},
{"d":"2018-12-09","o":3410,"h":3650,"l":3390,"c":3540,"v":30},
{"d":"2018-12-10","o":3540,"h":3590,"l":3390,"c":3430,"v":32},
{"d":"2018-12-11","o":3430,"h":3450,"l":3340,"c":3390,"v":30},
{"d":"2018-12-12","o":3390,"h":3550,"l":3370,"c":3490,"v":31},
{"d":"2018-12-13","o":3490,"h":3500,"l":3250,"c":3260,"v":33},
{"d":"2018-12-14","o":3260,"h":3290,"l":3150,"c":3190,"v":38},
{"d":"2018-12-15","o":3190,"h":3240,"l":3130,"c":3200,"v":28},
{"d":"2018-12-16","o":3200,"h":3300,"l":3180,"c":3260,"v":30},
{"d":"2018-12-17","o":3260,"h":3630,"l":3250,"c":3560,"v":63},
{"d":"2018-12-18","o":3560,"h":3700,"l":3500,"c":3680,"v":63},
{"d":"2018-12-19","o":3680,"h":3950,"l":3670,"c":3800,"v":61},
{"d":"2018-12-20","o":3800,"h":4150,"l":3780,"c":4110,"v":50},
{"d":"2018-12-21","o":4110,"h":4200,"l":3800,"c":3850,"v":44},
{"d":"2018-12-22","o":3850,"h":4020,"l":3800,"c":4000,"v":38},
{"d":"2018-12-23","o":4000,"h":4050,"l":3900,"c":3960,"v":33},
{"d":"2018-12-24","o":3960,"h":4250,"l":3950,"c":4060,"v":36},
{"d":"2018-12-25","o":4060,"h":4060,"l":3700,"c":3780,"v":33},
{"d":"2018-12-26","o":3780,"h":3850,"l":3720,"c":3830,"v":28},
{"d":"2018-12-27","o":3830,"h":3850,"l":3580,"c":3600,"v":30},
{"d":"2018-12-28","o":3600,"h":3950,"l":3580,"c":3900,"v":34},
{"d":"2018-12-29","o":3900,"h":3950,"l":3790,"c":3800,"v":28},
{"d":"2018-12-30","o":3800,"h":3920,"l":3780,"c":3900,"v":26},
{"d":"2018-12-31","o":3900,"h":3920,"l":3700,"c":3720,"v":25},
{"d":"2019-01-01","o":3720,"h":3860,"l":3690,"c":3840,"v":22},
{"d":"2019-01-02","o":3840,"h":3920,"l":3820,"c":3900,"v":25},
{"d":"2019-01-03","o":3900,"h":3900,"l":3750,"c":3780,"v":22},
{"d":"2019-01-04","o":3780,"h":3820,"l":3730,"c":3810,"v":22},
{"d":"2019-01-05","o":3810,"h":3860,"l":3780,"c":3800,"v":18},
{"d":"2019-01-06","o":3800,"h":4080,"l":3780,"c":4040,"v":30},
{"d":"2019-01-07","o":4040,"h":4070,"l":3980,"c":4000,"v":24},
{"d":"2019-01-08","o":4000,"h":4100,"l":3970,"c":4010,"v":27},
{"d":"2019-01-09","o":4010,"h":4070,"l":3990,"c":4020,"v":24},
{"d":"2019-01-10","o":4020,"h":4040,"l":3570,"c":3630,"v":42},
{"d":"2019-01-11","o":3630,"h":3690,"l":3560,"c":3625,"v":25},
{"d":"2019-01-12","o":3625,"h":3650,"l":3560,"c":3610,"v":18},
{"d":"2019-01-13","o":3610,"h":3630,"l":3480,"c":3510,"v":20},
{"d":"2019-01-14","o":3510,"h":3700,"l":3500,"c":3670,"v":25},
{"d":"2019-01-15","o":3670,"h":3690,"l":3560,"c":3580,"v":22},
{"d":"2019-01-16","o":3580,"h":3660,"l":3570,"c":3610,"v":20},
{"d":"2019-01-17","o":3610,"h":3650,"l":3550,"c":3640,"v":19},
{"d":"2019-01-18","o":3640,"h":3650,"l":3570,"c":3600,"v":16},
{"d":"2019-01-19","o":3600,"h":3780,"l":3600,"c":3700,"v":20},
{"d":"2019-01-20","o":3700,"h":3720,"l":3500,"c":3550,"v":21},
{"d":"2019-01-21","o":3550,"h":3580,"l":3520,"c":3560,"v":16},
{"d":"2019-01-22","o":3560,"h":3630,"l":3480,"c":3580,"v":18},
{"d":"2019-01-23","o":3580,"h":3600,"l":3530,"c":3560,"v":15},
{"d":"2019-01-24","o":3560,"h":3600,"l":3540,"c":3580,"v":15},
{"d":"2019-01-25","o":3580,"h":3590,"l":3520,"c":3570,"v":14},
{"d":"2019-01-26","o":3570,"h":3650,"l":3550,"c":3560,"v":17},
{"d":"2019-01-27","o":3560,"h":3580,"l":3500,"c":3540,"v":27},
{"d":"2019-01-28","o":3540,"h":3540,"l":3400,"c":3430,"v":24},
{"d":"2019-01-29","o":3430,"h":3440,"l":3380,"c":3410,"v":18},
{"d":"2019-01-30","o":3410,"h":3490,"l":3400,"c":3460,"v":17},
{"d":"2019-01-31","o":3460,"h":3490,"l":3430,"c":3440,"v":15},
{"d":"2019-02-01","o":3440,"h":3490,"l":3420,"c":3470,"v":15},
{"d":"2019-02-02","o":3470,"h":3520,"l":3450,"c":3500,"v":14},
{"d":"2019-02-03","o":3500,"h":3510,"l":3400,"c":3420,"v":16},
{"d":"2019-02-04","o":3420,"h":3450,"l":3400,"c":3415,"v":15},
{"d":"2019-02-05","o":3415,"h":3460,"l":3410,"c":3450,"v":14},
{"d":"2019-02-06","o":3450,"h":3460,"l":3370,"c":3400,"v":18},
{"d":"2019-02-07","o":3400,"h":3420,"l":3380,"c":3390,"v":16},
{"d":"2019-02-08","o":3390,"h":3700,"l":3380,"c":3650,"v":34},
{"d":"2019-02-09","o":3650,"h":3680,"l":3630,"c":3660,"v":20},
{"d":"2019-02-10","o":3660,"h":3700,"l":3630,"c":3690,"v":18},
{"d":"2019-02-11","o":3690,"h":3690,"l":3600,"c":3620,"v":19},
{"d":"2019-02-12","o":3620,"h":3650,"l":3570,"c":3610,"v":19},
{"d":"2019-02-13","o":3610,"h":3650,"l":3580,"c":3600,"v":18},
{"d":"2019-02-14","o":3600,"h":3620,"l":3560,"c":3580,"v":17},
{"d":"2019-02-15","o":3580,"h":3640,"l":3570,"c":3590,"v":17},
{"d":"2019-02-16","o":3590,"h":3650,"l":3590,"c":3620,"v":15},
{"d":"2019-02-17","o":3620,"h":3700,"l":3600,"c":3670,"v":17},
{"d":"2019-02-18","o":3670,"h":3940,"l":3660,"c":3890,"v":34},
{"d":"2019-02-19","o":3890,"h":4000,"l":3860,"c":3920,"v":30},
{"d":"2019-02-20","o":3920,"h":4000,"l":3900,"c":3980,"v":24},
{"d":"2019-02-21","o":3980,"h":4000,"l":3900,"c":3950,"v":22},
{"d":"2019-02-22","o":3950,"h":4000,"l":3940,"c":3980,"v":19},
{"d":"2019-02-23","o":3980,"h":4170,"l":3960,"c":4130,"v":26},
{"d":"2019-02-24","o":4130,"h":4180,"l":3730,"c":3750,"v":36},
{"d":"2019-02-25","o":3750,"h":3860,"l":3740,"c":3830,"v":28},
{"d":"2019-02-26","o":3830,"h":3840,"l":3780,"c":3810,"v":20},
{"d":"2019-02-27","o":3810,"h":3860,"l":3700,"c":3820,"v":22},
{"d":"2019-02-28","o":3820,"h":3890,"l":3780,"c":3800,"v":20},
{"d":"2019-03-01","o":3800,"h":3860,"l":3790,"c":3820,"v":17},
{"d":"2019-03-02","o":3820,"h":3830,"l":3780,"c":3815,"v":13},
{"d":"2019-03-03","o":3815,"h":3830,"l":3760,"c":3790,"v":12},
{"d":"2019-03-04","o":3790,"h":3800,"l":3690,"c":3710,"v":20},
{"d":"2019-03-05","o":3710,"h":3880,"l":3700,"c":3860,"v":22},
{"d":"2019-03-06","o":3860,"h":3900,"l":3830,"c":3870,"v":19},
{"d":"2019-03-07","o":3870,"h":3920,"l":3850,"c":3880,"v":18},
{"d":"2019-03-08","o":3880,"h":3930,"l":3820,"c":3860,"v":19},
{"d":"2019-03-09","o":3860,"h":3950,"l":3850,"c":3930,"v":17},
{"d":"2019-03-10","o":3930,"h":3930,"l":3880,"c":3910,"v":13},
{"d":"2019-03-11","o":3910,"h":3920,"l":3840,"c":3860,"v":18},
{"d":"2019-03-12","o":3860,"h":3890,"l":3820,"c":3880,"v":18},
{"d":"2019-03-13","o":3880,"h":3890,"l":3840,"c":3860,"v":16},
{"d":"2019-03-14","o":3860,"h":3900,"l":3820,"c":3865,"v":18},
{"d":"2019-03-15","o":3865,"h":3930,"l":3860,"c":3910,"v":17},
{"d":"2019-03-16","o":3910,"h":4020,"l":3900,"c":3950,"v":18},
{"d":"2019-03-17","o":3950,"h":3990,"l":3930,"c":3969.92,"v":10}
],
"pen": [
{"d":"2018-07-08T13:12:00Z","p":5994,"s":"a","k":1},
{"d":"2018-07-09T12:43:00Z","p":6176,"s":"a","k":2},
{"d":"2018-07-09T22:48:00Z","p":6595,"s":"a","k":3},
{"d":"2018-07-10T16:19:00Z","p":7004,"s":"a","k":4},
{"d":"2018-07-11T18:43:00Z","p":7347,"s":"a","k":5},
{"d":"2018-07-13T11:45:00Z","p":7710,"s":"a","k":6},
{"d":"2018-07-16T08:10:00Z","p":8138,"s":"a","k":7},
{"d":"2018-07-19T04:48:00Z","p":8484,"s":"a","k":8},
{"d":"2018-07-22T00:14:00Z","p":8745,"s":"a","k":9},
{"d":"2018-07-24T03:22:00Z","p":8849,"s":"a","k":10},
{"d":"2018-07-27T17:02:00Z","p":8849,"s":"a","k":11},
{"d":"2018-07-29T20:10:00Z","p":8690,"s":"a","k":12},
{"d":"2018-07-31T23:17:00Z","p":8435,"s":"a","k":13},
{"d":"2018-08-02T09:07:00Z","p":8286,"s":"a","k":14},
{"d":"2018-08-05T05:31:00Z","p":7992,"s":"a","k":15},
{"d":"2018-08-08T00:58:00Z","p":7616,"s":"a","k":16},
{"d":"2018-08-10T21:36:00Z","p":7260,"s":"a","k":17},
{"d":"2018-08-12T07:12:00Z","p":6920,"s":"a","k":18},
{"d":"2018-08-14T10:19:00Z","p":6636,"s":"a","k":19},
{"d":"2018-08-15T21:07:00Z","p":6471,"s":"a","k":20},
{"d":"2018-08-08T18:29:00Z","p":6478,"s":"b","k":1},
{"d":"2018-08-12T07:12:00Z","p":6288,"s":"b","k":2},
{"d":"2018-08-16T03:07:00Z","p":6138,"s":"b","k":3},
{"d":"2018-08-17T06:43:00Z","p":6288,"s":"b","k":4},
{"d":"2018-08-19T02:38:00Z","p":6558,"s":"b","k":5},
{"d":"2018-08-20T13:26:00Z","p":6836,"s":"b","k":6},
{"d":"2018-08-20T19:41:00Z","p":7022,"s":"b","k":7}
]
},
"encoding": {
  "x": {"field": "d", "type": "temporal", "title": null,
    "scale": {"type": "utc", "domain": [{"year": 2017, "month": 11, "date": 15, "hours": 13, "minutes": 55, "utc": true}, {"year": 2019, "month": 3, "date": 17, "hours": 20, "minutes": 10, "utc": true}]},
    "axis": {"values": [
      {"year": 2017, "month": 12, "date": 1, "utc": true},
      {"year": 2018, "month": 1, "date": 1, "utc": true},
      {"year": 2018, "month": 2, "date": 1, "utc": true},
      {"year": 2018, "month": 3, "date": 1, "utc": true},
      {"year": 2018, "month": 4, "date": 1, "utc": true},
      {"year": 2018, "month": 5, "date": 1, "utc": true},
      {"year": 2018, "month": 6, "date": 1, "utc": true},
      {"year": 2018, "month": 7, "date": 1, "utc": true},
      {"year": 2018, "month": 9, "date": 1, "utc": true},
      {"year": 2018, "month": 10, "date": 1, "utc": true},
      {"year": 2018, "month": 11, "date": 1, "utc": true},
      {"year": 2018, "month": 12, "date": 1, "utc": true},
      {"year": 2019, "month": 1, "date": 1, "utc": true},
      {"year": 2019, "month": 2, "date": 1, "utc": true},
      {"year": 2019, "month": 3, "date": 1, "utc": true}],
      "labelExpr": "utcmonth(datum.value) == 0 ? utcFormat(datum.value, '%Y') : (utcmonth(datum.value) + 1) + '月'",
      "labelFontWeight": {"condition": {"test": "utcmonth(datum.value) == 0", "value": "bold"}, "value": "normal"},
      "labelPadding": 5, "labelFlush": false, "labelOverlap": false}
  }
},
"layer": [
  {
    "data": {"name": "bars"},
    "mark": {"type": "bar", "size": 1.8, "opacity": 0.58},
    "encoding": {
      "y": {"field": "v", "type": "quantitative", "scale": {"domain": [0, 575], "nice": false}, "axis": null},
      "color": {"condition": {"test": "datum.c >= datum.o", "value": "#26a69a"}, "value": "#ef5350"}
    }
  },
  {
    "layer": [
      {
        "data": {"values": [{"d": "2018-07-01T10:33:00Z", "p": 8340, "t": "BTCUSD, 1天"}, {"d": "2018-07-01T10:33:00Z", "p": 7208, "t": "比特币/美元"}]},
        "mark": {"type": "text", "font": "Noto Sans CJK SC", "color": "#3a3e49", "baseline": "middle", "align": "center"},
        "encoding": {
          "y": {"field": "p", "type": "quantitative", "scale": {"type": "log", "domain": [2604, 20606], "nice": false, "zero": false}},
          "text": {"field": "t"},
          "size": {"field": "t", "type": "nominal", "scale": {"domain": ["BTCUSD, 1天", "比特币/美元"], "range": [53, 23]}, "legend": null}
        }
      },
      {
        "data": {"name": "bars"},
        "mark": {"type": "rule", "strokeWidth": 1},
        "encoding": {
          "y": {"field": "l", "type": "quantitative", "title": null,
            "axis": {"orient": "right", "values": [2730, 2950, 3190, 3470, 3750, 4050, 4450, 4850, 5250, 5650, 6250, 6850, 7450, 8050, 8800, 9550, 10300, 11100, 12300, 13500, 15000, 16500, 18000, 20000], "format": ",.2f", "labelAlign": "center", "labelPadding": 24, "labelBaseline": "middle"}},
          "y2": {"field": "h"},
          "color": {"condition": {"test": "datum.c >= datum.o", "value": "#26a69a"}, "value": "#ef5350"}
        }
      },
      {
        "data": {"name": "bars"},
        "mark": {"type": "bar", "size": 1.8},
        "encoding": {
          "y": {"field": "o", "type": "quantitative"},
          "y2": {"field": "c"},
          "color": {"condition": {"test": "datum.c >= datum.o", "value": "#26a69a"}, "value": "#ef5350"}
        }
      },
      {
        "data": {"values": [{"d": "2018-07-25"}]},
        "mark": {"type": "rule", "color": "#c8cad1", "strokeWidth": 1},
        "encoding": {}
      },
      {
        "data": {"name": "pen"},
        "mark": {"type": "line", "color": "#f5c518", "strokeWidth": 3, "strokeCap": "round", "strokeJoin": "round"},
        "encoding": {
          "y": {"field": "p", "type": "quantitative"},
          "detail": {"field": "s"},
          "order": {"field": "k"}
        }
      },
      {
        "data": {"values": [{"d": "2018-07-10T09:07:00Z", "d2": "2018-08-09T04:34:00Z", "p": 2604, "p2": 2459}]},
        "mark": {"type": "rect", "color": "#dcdee4", "cornerRadius": 2},
        "encoding": {
          "x2": {"field": "d2"},
          "y": {"field": "p", "type": "quantitative"},
          "y2": {"field": "p2"}
        }
      },
      {
        "data": {"values": [{"d": "2018-07-25T08:00:00Z", "p": 2531, "t": "周三 2018-07-25"}]},
        "mark": {"type": "text", "font": "Roboto, Noto Sans CJK SC", "fontSize": 9, "color": "#131722", "baseline": "middle", "align": "center"},
        "encoding": {
          "y": {"field": "p", "type": "quantitative"},
          "text": {"field": "t"}
        }
      },
      {
        "data": {"values": [{"d": "2019-03-18T05:31:00Z", "d2": "2019-04-03T20:10:00Z", "p": 4035, "p2": 3890}]},
        "mark": {"type": "rect", "fill": "#161a25", "stroke": "#26a69a", "strokeWidth": 1},
        "encoding": {
          "x2": {"field": "d2"},
          "y": {"field": "p", "type": "quantitative"},
          "y2": {"field": "p2"}
        }
      },
      {
        "data": {"values": [{"d": "2019-03-26T13:00:00Z", "p": 3962, "t": "3,969.92"}]},
        "mark": {"type": "text", "font": "Roboto", "fontSize": 9, "color": "#26a69a", "baseline": "middle", "align": "center"},
        "encoding": {
          "y": {"field": "p", "type": "quantitative"},
          "text": {"field": "t"}
        }
      },
      {
        "data": {"values": [{"d": "2019-03-28T15:50:00Z", "p": 2531, "t": "⚙"}]},
        "mark": {"type": "text", "font": "DejaVu Sans", "fontSize": 12, "color": "#a3a6af", "baseline": "middle", "align": "center"},
        "encoding": {
          "y": {"field": "p", "type": "quantitative"},
          "text": {"field": "t"}
        }
      }
    ]
  }
],
"resolve": {"scale": {"y": "independent"}}
}
